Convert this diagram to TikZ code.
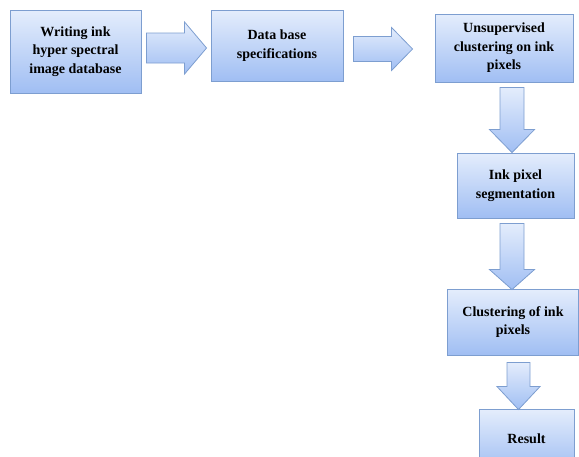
\documentclass[tikz,border=0pt]{standalone}
\usepackage{fontspec}
\setmainfont{Liberation Serif}
\usetikzlibrary{calc,shadows}
\definecolor{boxtop}{RGB}{228,237,252}
\definecolor{boxbot}{RGB}{160,190,243}
\definecolor{boxline}{RGB}{125,158,208}
\tikzset{
  stepbox/.style={draw=boxline, line width=0.9pt, top color=boxtop, bottom color=boxbot,
    align=center, inner sep=0pt, font=\bfseries\fontsize{14}{18.5}\selectfont,
    drop shadow={shadow xshift=1.2pt, shadow yshift=-1.2pt, opacity=0.25, fill=gray}},
  blockarrow/.style={draw=boxline, line width=0.8pt, top color=boxtop, bottom color=boxbot, line join=miter}
}
% horizontal block arrow: #1 start, #2 end, #3 y (picture units), #4 shaft half, #5 head half, #6 head length
\newcommand\myharrow[6]{%
  \path[blockarrow] let \p1=(#1), \p2=(#2) in
    (\x1,#3+#4) -- (\x2-#6,#3+#4) -- (\x2-#6,#3+#5) -- (\x2,#3) -- (\x2-#6,#3-#5)
    -- (\x2-#6,#3-#4) -- (\x1,#3-#4) -- cycle;}
% vertical block arrow (downwards in picture): #3 x
\newcommand\myvarrow[6]{%
  \path[blockarrow] let \p1=(#1), \p2=(#2) in
    (#3-#4,\y1) -- (#3-#4,\y2+#6) -- (#3-#5,\y2+#6) -- (#3,\y2) -- (#3+#5,\y2+#6)
    -- (#3+#4,\y2+#6) -- (#3+#4,\y1) -- cycle;}
\begin{document}
\begin{tikzpicture}[x=1pt,y=-1pt]
\useasboundingbox (0,0) rectangle (579,456);
\clip (0,0) rectangle (579,456);
\node[stepbox, minimum width=131pt, minimum height=83pt] (b1) at (75.5,51.5) {\raisebox{-2pt}{\parbox{130pt}{\centering Writing ink\\hyper spectral\\image database}}};
\node[stepbox, minimum width=132pt, minimum height=71pt] (b2) at (277,45.5) {Data base\\specifications};
\node[stepbox, minimum width=138pt, minimum height=68pt] (b3) at (504,48) {Unsupervised\\clustering on ink\\pixels};
\node[stepbox, minimum width=117pt, minimum height=65pt] (b4) at (515.5,185.5) {Ink pixel\\segmentation};
\node[stepbox, minimum width=131pt, minimum height=66pt] (b5) at (513,322) {Clustering of ink\\pixels};
\node[stepbox, minimum width=95pt, minimum height=62pt, text depth=0pt] (b6) at (526.5,440) {\raisebox{2pt}{Result}};
\coordinate (a1s) at ($(b1.east)+(5,0)$);
\coordinate (a1e) at ($(b2.west)+(-4,0)$);
\myharrow{a1s}{a1e}{48}{15}{26}{22}
\coordinate (a2s) at ($(b2.east)+(10,0)$);
\coordinate (a2e) at ($(b3.west)+(-22,0)$);
\myharrow{a2s}{a2e}{49}{12.5}{21.5}{21}
\coordinate (a3s) at ($(b3.south)+(0,5)$);
\coordinate (a3e) at ($(b4.north)+(0,0)$);
\myvarrow{a3s}{a3e}{512}{12}{22.5}{23}
\coordinate (a4s) at ($(b4.south)+(0,5)$);
\coordinate (a4e) at ($(b5.north)+(0,1)$);
\myvarrow{a4s}{a4e}{512}{12}{22.5}{20}
\coordinate (a5s) at ($(b5.south)+(0,7)$);
\coordinate (a5e) at ($(b6.north)+(0,1)$);
\myvarrow{a5s}{a5e}{518.5}{11.5}{21.5}{23}
\end{tikzpicture}
\end{document}
